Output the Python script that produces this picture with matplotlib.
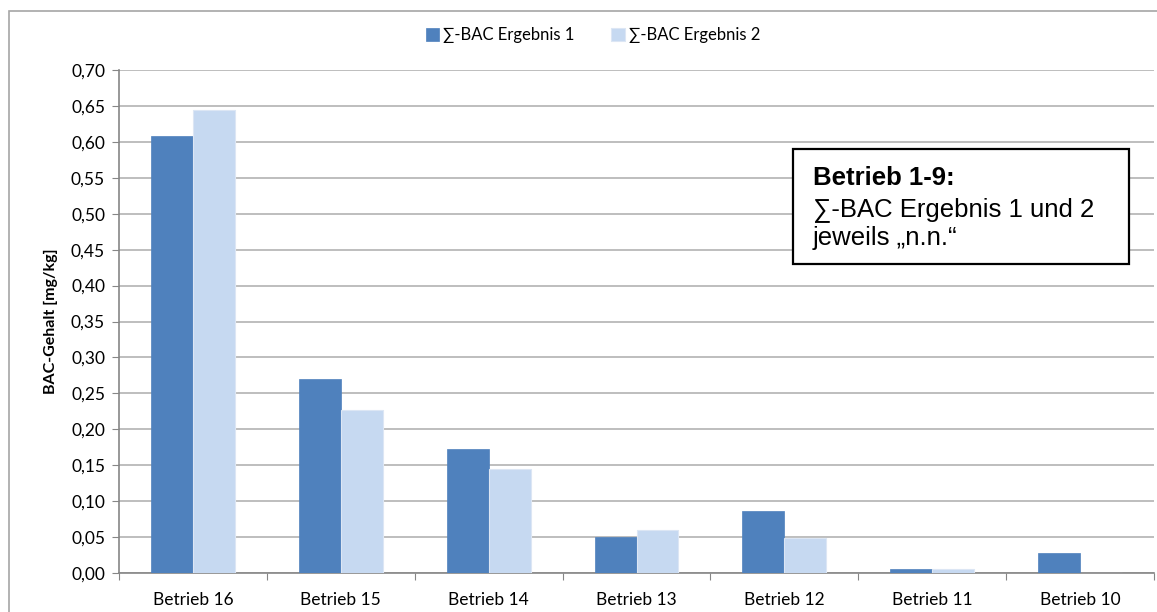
import matplotlib
matplotlib.use('Agg')
import matplotlib.pyplot as plt
from matplotlib.patches import Rectangle
import numpy as np

categories = ['Betrieb 16', 'Betrieb 15', 'Betrieb 14', 'Betrieb 13',
              'Betrieb 12', 'Betrieb 11', 'Betrieb 10']
ergebnis1 = [0.608, 0.270, 0.172, 0.050, 0.086, 0.005, 0.028]
ergebnis2 = [0.644, 0.227, 0.145, 0.060, 0.049, 0.005, 0.0]
series_names = ['\u2211-BAC Ergebnis 1', '\u2211-BAC Ergebnis 2']
yticks = np.arange(0, 0.701, 0.05)

W, H = 1157, 612
fig = plt.figure(figsize=(W / 100, H / 100), dpi=100)
ax = fig.add_axes([119 / W, 1 - 573 / H, (1154 - 119) / W, (573 - 70) / H])

fam = ['Lato', 'DejaVu Sans']
arial = ['Liberation Sans', 'DejaVu Sans']
x = np.arange(len(categories))
bw = 0.284
b1 = ax.bar(x - bw / 2, ergebnis1, bw, color='#4F81BD', edgecolor='#4F81BD',
            linewidth=0.5, label=series_names[0], zorder=3)
b2 = ax.bar(x + bw / 2, ergebnis2, bw, color='#C6D9F1', edgecolor='#DCE6F4',
            linewidth=0.8, label=series_names[1], zorder=3)

ax.set_xlim(-0.5, len(categories) - 0.5)
ax.set_ylim(0, 0.70)
ax.set_yticks(yticks)
ax.set_yticklabels([('%.2f' % v).replace('.', ',') for v in yticks],
                   family=fam, fontsize=12.5)
ax.set_xticks(np.arange(len(categories) + 1) - 0.5)
ax.set_xticklabels([])
ax.set_xticks(x, minor=True)
ax.set_xticklabels(categories, minor=True, family=fam, fontsize=12.5)
ax.tick_params(axis='x', which='minor', length=0, pad=14)
ax.tick_params(axis='x', which='major', length=5, color='#868686', direction='out')
ax.tick_params(axis='y', length=5, color='#868686', direction='out', pad=5)

ax.grid(axis='y', color='#B3B3B3', linewidth=1.2, zorder=0)
for s in ['top', 'right']:
    ax.spines[s].set_visible(False)
for s in ['left', 'bottom']:
    ax.spines[s].set_color('#868686')
    ax.spines[s].set_linewidth(1.2)

ax.set_ylabel('BAC-Gehalt [mg/kg]', family=fam, fontsize=11.5,
              fontweight='bold', labelpad=9)

leg = fig.legend(handles=[b1, b2], labels=series_names, loc='center',
                 bbox_to_anchor=(593 / W, 1 - 35 / H), ncol=2, frameon=False,
                 prop={'family': fam, 'size': 12}, handlelength=0.8,
                 handleheight=0.8, handletextpad=0.25, columnspacing=2.2)

# outer chart frame
fig.patches.append(Rectangle((9 / W, -0.1), 1.2, 1 - 11 / H + 0.1,
                             transform=fig.transFigure, fill=False,
                             edgecolor='#A6A6A6', linewidth=1.2))

# annotation box
fig.patches.append(Rectangle((793 / W, 1 - 264 / H), (1129 - 793) / W,
                             (264 - 149) / H, transform=fig.transFigure,
                             facecolor='white', edgecolor='black',
                             linewidth=1.6, zorder=5))
fig.text(813 / W, 1 - 185 / H, 'Betrieb 1-9:', family=arial,
         fontsize=18.5, fontweight='bold', va='baseline', zorder=6)
fig.text(813 / W, 1 - 216 / H, '\u2211-BAC Ergebnis 1 und 2',
         family=arial, fontsize=18.5, va='baseline', zorder=6)
fig.text(813 / W, 1 - 245 / H, 'jeweils \u201en.n.\u201c',
         family=arial, fontsize=18.5, va='baseline', zorder=6)

fig.savefig('out.png', dpi=100)
